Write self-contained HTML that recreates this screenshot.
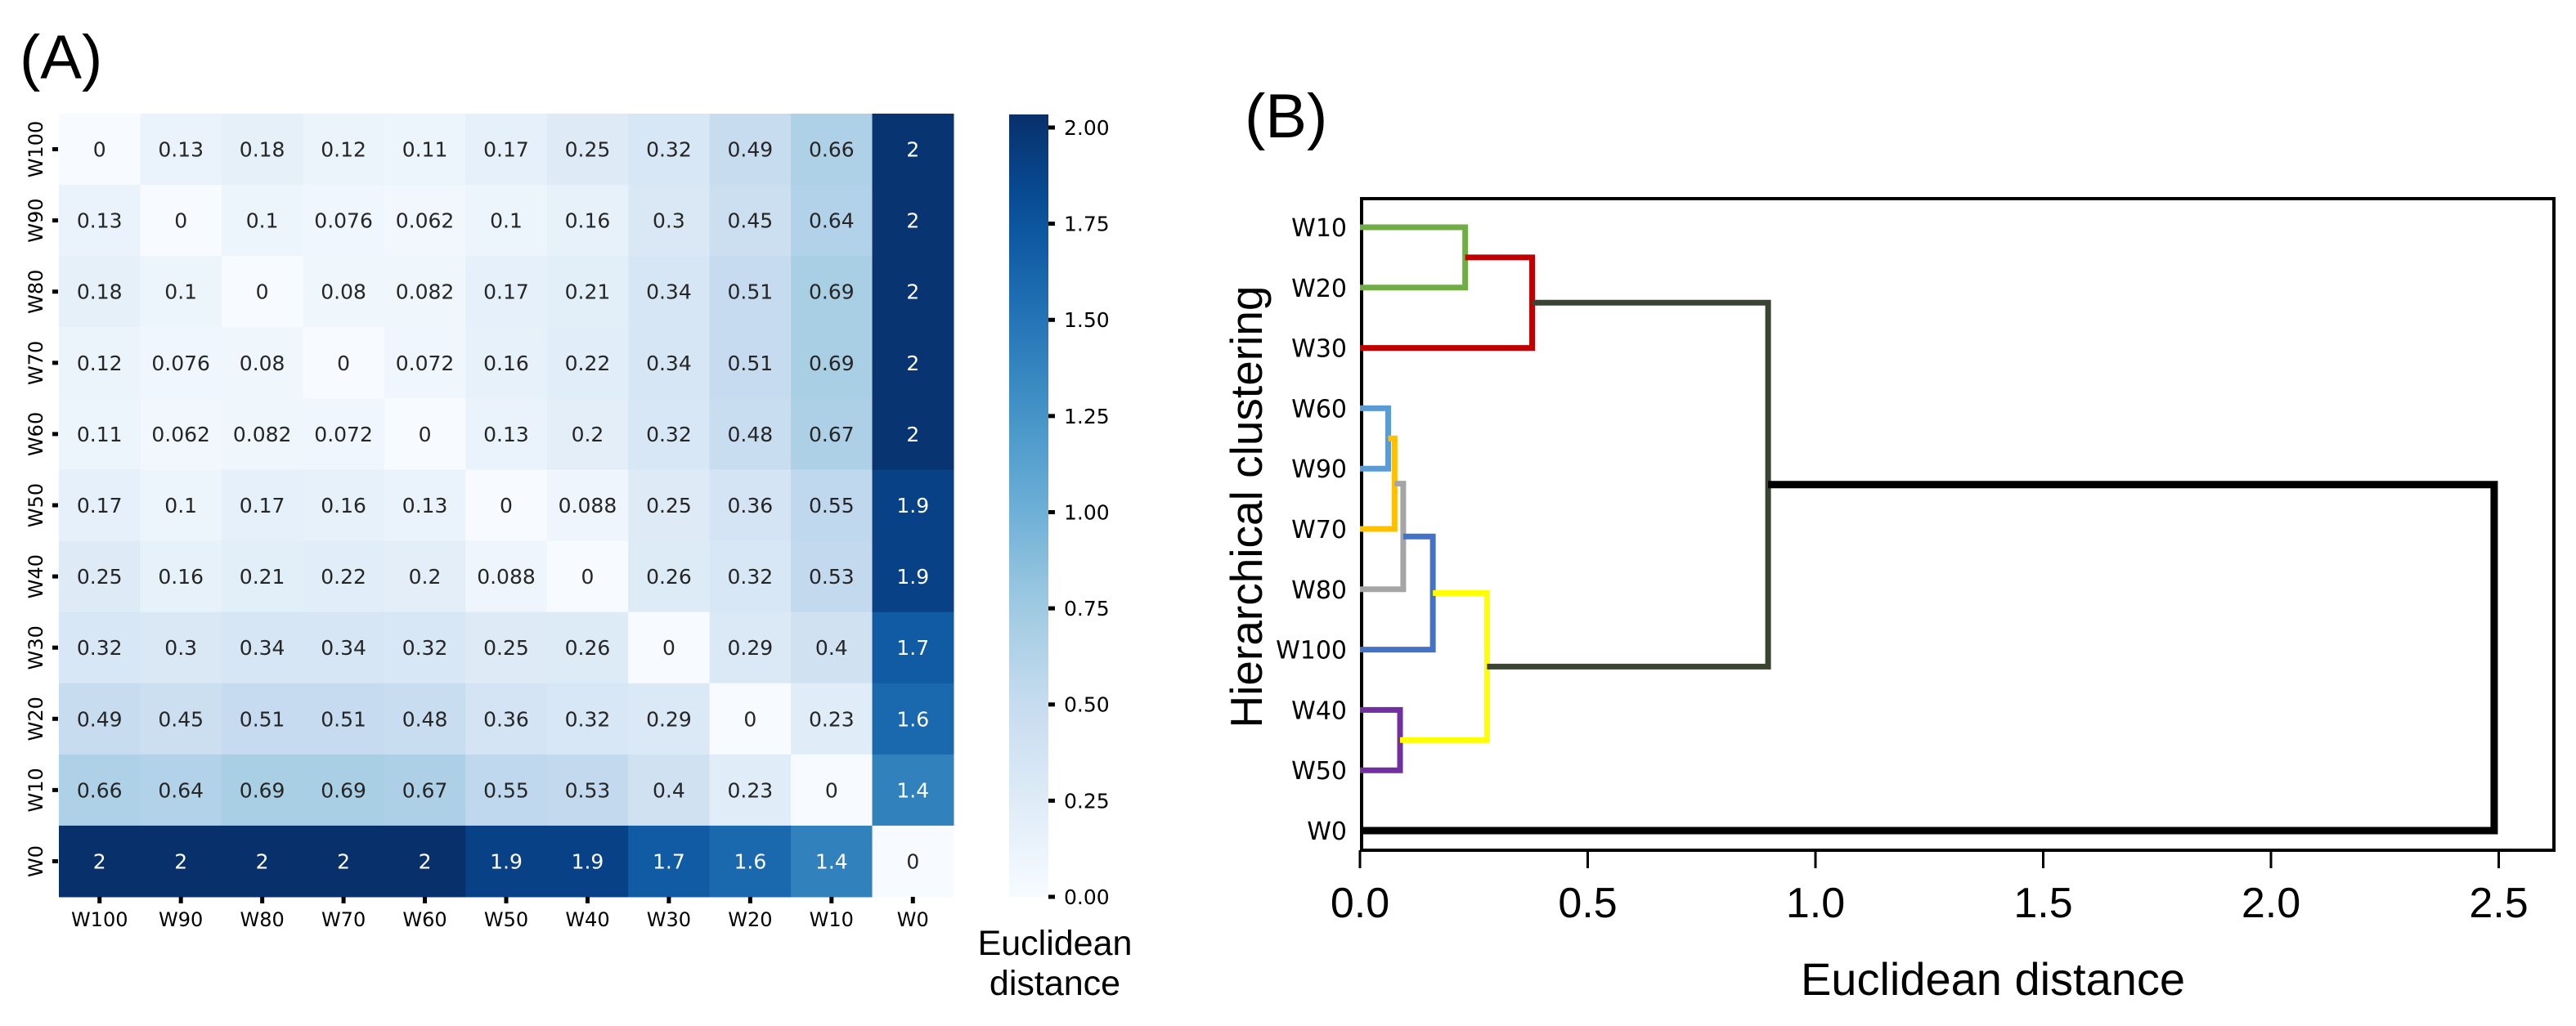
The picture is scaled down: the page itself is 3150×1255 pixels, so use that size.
<!DOCTYPE html>
<html><head><meta charset="utf-8">
<style>
html,body{margin:0;padding:0;background:#fff;}
svg{display:block;}
</style></head>
<body>
<svg id="fig" width="3150" height="1255" viewBox="0 0 3150 1255" xmlns="http://www.w3.org/2000/svg">
<rect width="3150" height="1255" fill="#fff"/>
<text x="24" y="96" font-family="Liberation Sans, sans-serif" font-size="76">(A)</text>
<text x="1522" y="168" font-family="Liberation Sans, sans-serif" font-size="76">(B)</text>
<g id="heat"></g>
<g id="cbar"></g>
<g id="dendro"></g>
</svg>
<script>
const labels = ["W100","W90","W80","W70","W60","W50","W40","W30","W20","W10","W0"];
const matrix = [
 [0,0.13,0.18,0.12,0.11,0.17,0.25,0.32,0.49,0.66,2],
 [0.13,0,0.1,0.076,0.062,0.1,0.16,0.3,0.45,0.64,2],
 [0.18,0.1,0,0.08,0.082,0.17,0.21,0.34,0.51,0.69,2],
 [0.12,0.076,0.08,0,0.072,0.16,0.22,0.34,0.51,0.69,2],
 [0.11,0.062,0.082,0.072,0,0.13,0.2,0.32,0.48,0.67,2],
 [0.17,0.1,0.17,0.16,0.13,0,0.088,0.25,0.36,0.55,1.9],
 [0.25,0.16,0.21,0.22,0.2,0.088,0,0.26,0.32,0.53,1.9],
 [0.32,0.3,0.34,0.34,0.32,0.25,0.26,0,0.29,0.4,1.7],
 [0.49,0.45,0.51,0.51,0.48,0.36,0.32,0.29,0,0.23,1.6],
 [0.66,0.64,0.69,0.69,0.67,0.55,0.53,0.4,0.23,0,1.4],
 [2.03,2.03,2.03,2.03,2.03,1.9,1.9,1.7,1.6,1.4,0]
];
const cbarTicks = [0,0.25,0.5,0.75,1.0,1.25,1.5,1.75,2.0];
const vmax = 2.034;

const leafLabels = ["W10","W20","W30","W60","W90","W70","W80","W100","W40","W50","W0"];
// merges: leaves are 0..10, new clusters 11+
const mergeA = [0,3,11,12,14,8,15,17,13,19];
const mergeB = [1,4,2,5,6,9,7,16,18,10];
const mergeH = [0.231,0.062,0.378,0.076,0.095,0.088,0.16,0.279,0.896,2.49];
const mergeColor = ["#70ad47","#5b9bd5","#c00000","#ffc000","#a5a5a5","#7030a0","#4472c4","#ffff00","#3b4433","#000000"];
const xTicks = [0,0.5,1.0,1.5,2.0,2.5];

const NS="http://www.w3.org/2000/svg";
function mk(tag, attrs, parent){const e=document.createElementNS(NS,tag);for(const k in attrs)e.setAttribute(k,attrs[k]);parent.appendChild(e);return e;}
const stops=[[0,"#f7fbff"],[0.125,"#deebf7"],[0.25,"#c6dbef"],[0.375,"#9ecae1"],[0.5,"#6baed6"],[0.625,"#4292c6"],[0.75,"#2171b5"],[0.875,"#08519c"],[1,"#08306b"]];
function hex(h){return [1,3,5].map(i=>parseInt(h.substr(i,2),16));}
function blues(t){t=Math.max(0,Math.min(1,t));for(let i=1;i<stops.length;i++){if(t<=stops[i][0]){const a=stops[i-1],b=stops[i];const f=(t-a[0])/(b[0]-a[0]);const ca=hex(a[1]),cb=hex(b[1]);return "rgb("+ca.map((v,j)=>Math.round(v+(cb[j]-v)*f)).join(",")+")";}}return stops[8][1];}

// Heatmap
const heat=document.getElementById('heat');
const hx0=72,hy0=139,cw=(1166-72)/11,ch=(1097-139)/11;
const colX=i=>hx0+i*cw, rowY=i=>hy0+i*ch;
for(let r=0;r<labels.length;r++){
  for(let c=0;c<labels.length;c++){
    const v=matrix[r][c];
    const cell=mk('rect',{x:colX(c),y:rowY(r),width:cw+0.5,height:ch+0.5,fill:blues(v/vmax)},heat);
    
    
    const t=mk('text',{x:colX(c)+cw/2,y:rowY(r)+ch/2+9,'text-anchor':'middle','font-family':'DejaVu Sans, sans-serif','font-size':25,fill:v>1.1?'#fff':'#262626'},heat);
    t.textContent=v>=2?"2":String(v);
    
    
  }
}
for(let i=0;i<labels.length;i++){
  mk('rect',{x:64,y:rowY(i)+ch/2-2.5,width:7,height:5,fill:'#000'},heat);
  const yl=mk('text',{x:0,y:0,transform:`translate(52,${rowY(i)+ch/2}) rotate(-90)`,'text-anchor':'middle','font-family':'DejaVu Sans, sans-serif','font-size':24},heat);
  yl.textContent=labels[i];
  
  
  mk('rect',{x:colX(i)+cw/2-2.5,y:1097,width:5,height:8,fill:'#000'},heat);
  const xl=mk('text',{x:colX(i)+cw/2,y:1133,'text-anchor':'middle','font-family':'DejaVu Sans, sans-serif','font-size':24},heat);
  xl.textContent=labels[i];
  
  
}
// Colorbar
const cbar=document.getElementById('cbar');
const cbTop=140,cbBot=1097,cbX=1234,cbW=48;
const cbY=v=>cbBot-(v/vmax)*(cbBot-cbTop);
const defs=mk('defs',{},cbar);
const lg=mk('linearGradient',{id:'gblues',x1:0,y1:1,x2:0,y2:0},defs);
for(let i=0;i<=20;i++){mk('stop',{offset:i/20,'stop-color':blues(i/20)},lg);}
const cbRect=mk('rect',{x:cbX,y:cbTop,width:cbW,height:cbBot-cbTop,fill:'url(#gblues)'},cbar);


cbarTicks.forEach(v=>{
  mk('rect',{x:cbX+cbW,y:cbY(v)-2.5,width:8,height:5,fill:'#000'},cbar);
  const t=mk('text',{x:1301,y:cbY(v)+9,'font-family':'DejaVu Sans, sans-serif','font-size':25},cbar);
  t.textContent=v.toFixed(2);
  
  
});
const ct1=mk('text',{x:1290,y:1168,'text-anchor':'middle','font-family':'Liberation Sans, sans-serif','font-size':43},cbar);
ct1.textContent="Euclidean";


const ct2=mk('text',{x:1290,y:1217,'text-anchor':'middle','font-family':'Liberation Sans, sans-serif','font-size':43},cbar);
ct2.textContent="distance";



// Dendrogram
const dg=document.getElementById('dendro');
const bx0=1665,bx1=3123,by0=243,by1=1040;
const xS=v=>1663+v*557;
const leafY=i=>278+i*73.8;
const box=mk('rect',{x:bx0,y:by0,width:bx1-bx0,height:by1-by0,fill:'none',stroke:'#000','stroke-width':4},dg);


const pos=[];
for(let i=0;i<leafLabels.length;i++){
  pos.push({y:leafY(i),h:0});
  const t=mk('text',{x:1647,y:leafY(i)+11,'text-anchor':'end','font-family':'DejaVu Sans, sans-serif','font-size':30},dg);
  t.textContent=leafLabels[i];
  
  
}
for(let m=0;m<mergeA.length;m++){
  const a=pos[mergeA[m]],b=pos[mergeB[m]],h=mergeH[m];
  if(!a||!b) continue;
  const p=mk('path',{d:`M${xS(a.h)},${a.y} H${xS(h)} V${b.y} H${xS(b.h)}`,fill:'none',stroke:mergeColor[m],'stroke-width':m===mergeA.length-1?9:7,'stroke-linejoin':'miter'},dg);
  
  
  pos.push({y:(a.y+b.y)/2,h:h});
}
xTicks.forEach(v=>{
  mk('line',{x1:xS(v),x2:xS(v),y1:by1,y2:by1+22,stroke:'#000','stroke-width':3},dg);
  const t=mk('text',{x:xS(v),y:1122,'text-anchor':'middle','font-family':'Liberation Sans, sans-serif','font-size':52},dg);
  t.textContent=v.toFixed(1);
  
  
});
const xt=mk('text',{x:2437,y:1217,'text-anchor':'middle','font-family':'Liberation Sans, sans-serif','font-size':56},dg);
xt.textContent="Euclidean distance";


const yt=mk('text',{x:0,y:0,transform:'translate(1543,620) rotate(-90)','text-anchor':'middle','font-family':'Liberation Sans, sans-serif','font-size':55},dg);
yt.textContent="Hierarchical clustering";


</script>
</body></html>
